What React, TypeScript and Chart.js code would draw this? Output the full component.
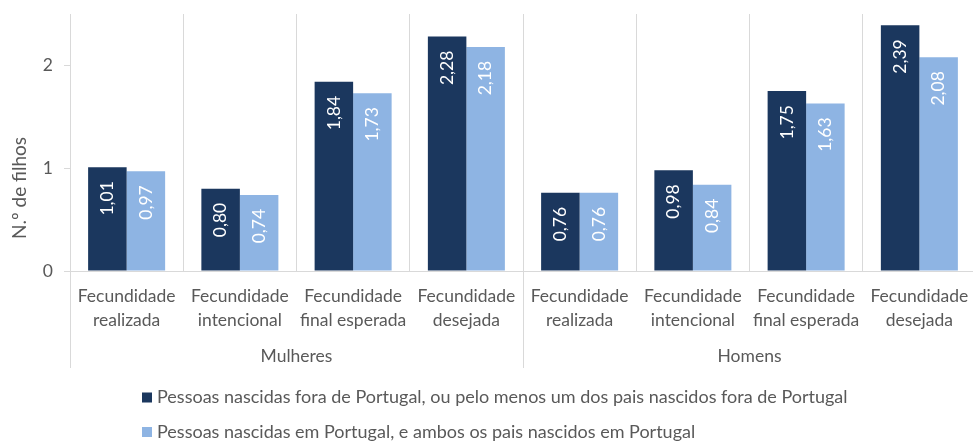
import React, { useEffect, useRef } from "react";
import { Chart, registerables } from "chart.js";

Chart.register(...registerables);

const categories: string[][] = [
  ["Fecundidade", "realizada"],
  ["Fecundidade", "intencional"],
  ["Fecundidade", "final esperada"],
  ["Fecundidade", "desejada"],
  ["Fecundidade", "realizada"],
  ["Fecundidade", "intencional"],
  ["Fecundidade", "final esperada"],
  ["Fecundidade", "desejada"],
];
const groups: string[] = ["Mulheres", "Homens"];
const seriesNames: string[] = [
  "Pessoas nascidas fora de Portugal, ou pelo menos um dos pais nascidos fora de Portugal",
  "Pessoas nascidas em Portugal, e ambos os pais nascidos em Portugal",
];
const foraValues: number[] = [1.01, 0.8, 1.84, 2.28, 0.76, 0.98, 1.75, 2.39];
const portugalValues: number[] = [0.97, 0.74, 1.73, 2.18, 0.76, 0.84, 1.63, 2.08];
const yTitle = "N.º de filhos";

const DARK = "#1b375e";
const LIGHT = "#8eb4e3";
const TEXT = "#595959";
const GRID = "#d9d9d9";
const FONT = "Lato";
const FS = 17.5;

const fmt = (v: number) => v.toFixed(2).replace(".", ",");

const customPlugin = {
  id: "customDraw",
  afterDatasetsDraw(chart: any) {
    const ctx = chart.ctx;
    chart.data.datasets.forEach((ds: any, di: number) => {
      const meta = chart.getDatasetMeta(di);
      meta.data.forEach((bar: any, i: number) => {
        const v = ds.data[i] as number;
        ctx.save();
        ctx.translate(bar.x, bar.y + 14);
        ctx.rotate(-Math.PI / 2);
        ctx.textAlign = "right";
        ctx.textBaseline = "middle";
        ctx.fillStyle = "#ffffff";
        ctx.font = `${FS}px ${FONT}`;
        ctx.fillText(fmt(v), 0, 0);
        ctx.restore();
      });
    });
  },
  afterDraw(chart: any) {
    const ctx = chart.ctx;
    const xs = chart.scales.x;
    const area = chart.chartArea;
    const n = categories.length;
    const per = n / groups.length;
    const w = (xs.right - xs.left) / n;
    ctx.save();
    // group separators
    ctx.strokeStyle = GRID;
    ctx.lineWidth = 1;
    for (let g = 0; g <= groups.length; g++) {
      const x = Math.round(xs.left + g * per * w) + 0.5;
      ctx.beginPath();
      ctx.moveTo(x, area.bottom);
      ctx.lineTo(x, 368);
      ctx.stroke();
    }
    // group labels
    ctx.fillStyle = TEXT;
    ctx.font = `${FS}px ${FONT}`;
    ctx.textAlign = "center";
    ctx.textBaseline = "middle";
    groups.forEach((gName, g) => {
      const cx = xs.left + (g * per + per / 2) * w;
      ctx.fillText(gName, cx, 356);
    });
    // y title
    ctx.save();
    ctx.font = `19px ${FONT}`;
    ctx.translate(20, 188);
    ctx.rotate(-Math.PI / 2);
    ctx.textAlign = "center";
    ctx.textBaseline = "middle";
    ctx.fillText(yTitle, 0, 0);
    ctx.restore();
    // legend
    const colors = [DARK, LIGHT];
    const rowsY = [397.5, 432];
    ctx.font = `18px ${FONT}`;
    seriesNames.forEach((name, i) => {
      ctx.fillStyle = colors[i];
      ctx.fillRect(142, rowsY[i] - 5, 10, 10);
      ctx.fillStyle = TEXT;
      ctx.textAlign = "left";
      ctx.textBaseline = "middle";
      ctx.fillText(name, 157, rowsY[i]);
    });
    ctx.restore();
  },
};

export default function App() {
  const ref = useRef<HTMLCanvasElement | null>(null);
  useEffect(() => {
    if (!ref.current) return;
    const chart = new Chart(ref.current, {
      type: "bar",
      data: {
        labels: categories,
        datasets: [
          {
            label: seriesNames[0],
            data: foraValues,
            backgroundColor: DARK,
            categoryPercentage: 0.68,
            barPercentage: 1,
          },
          {
            label: seriesNames[1],
            data: portugalValues,
            backgroundColor: LIGHT,
            categoryPercentage: 0.68,
            barPercentage: 1,
          },
        ],
      },
      options: {
        responsive: false,
        animation: false,
        devicePixelRatio: 1,
        layout: { padding: { top: 14, left: 0, right: 0, bottom: 0 } },
        plugins: {
          legend: { display: false },
          tooltip: { enabled: false },
          title: { display: false },
        },
        scales: {
          x: {
            offset: true,
            grid: {
              display: true,
              offset: true,
              color: GRID,
              drawTicks: false,
            },
            border: { color: GRID },
            ticks: {
              color: TEXT,
              font: { family: FONT, size: FS, lineHeight: 1.33 },
              padding: 14,
              maxRotation: 0,
              autoSkip: false,
            },
            afterFit: (s: any) => {
              s.height = 170;
              s.paddingLeft = 0;
              s.paddingRight = 0;
            },
          },
          y: {
            min: 0,
            max: 2.5,
            grid: {
              drawOnChartArea: false,
              drawTicks: true,
              tickLength: 6,
              color: GRID,
            },
            border: { color: GRID },
            ticks: {
              stepSize: 1,
              color: TEXT,
              font: { family: FONT, size: FS },
              padding: 11,
            },
            afterBuildTicks: (s: any) => {
              s.ticks = s.ticks.filter((t: any) => Number.isInteger(t.value));
            },
            afterFit: (s: any) => {
              s.width = 70;
              s.paddingTop = 0;
              s.paddingBottom = 0;
            },
          },
        },
      },
      plugins: [customPlugin],
    });
    return () => chart.destroy();
  }, []);
  return (
    <div
      style={{
        position: "fixed",
        left: 0,
        top: 0,
        width: 973,
        height: 441,
        overflow: "hidden",
        background: "#fff",
      }}
    >
      <canvas ref={ref} width={976} height={441} style={{ width: 976, height: 441, display: "block" }} />
    </div>
  );
}
